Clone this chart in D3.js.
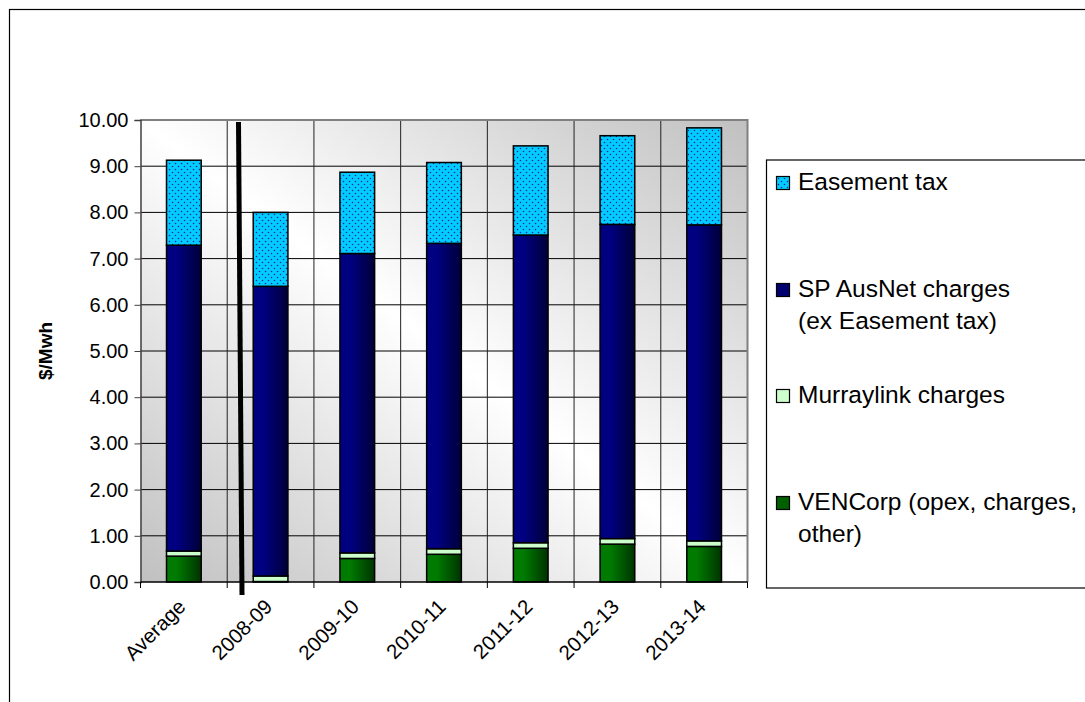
<!DOCTYPE html>
<html><head><meta charset="utf-8">
<script src="https://cdn.jsdelivr.net/npm/d3@7"></script>
<style>
html,body{margin:0;padding:0;background:#fff;}
svg{display:block;font-family:Arial,"Liberation Sans",sans-serif;}
</style></head>
<body><svg id="c" width="1085" height="702"></svg>
<script>
const categories = ["Average","2008-09","2009-10","2010-11","2011-12","2012-13","2013-14"];
const venCorp    = [0.56, 0.01, 0.51, 0.60, 0.73, 0.82, 0.77];
const murraylink = [0.11, 0.12, 0.12, 0.12, 0.12, 0.12, 0.12];
const spAusNet   = [6.62, 6.27, 6.48, 6.61, 6.66, 6.80, 6.84];
const easement   = [1.84, 1.60, 1.76, 1.75, 1.93, 1.92, 2.10];
const yTicks     = [0,1,2,3,4,5,6,7,8,9,10];
const seriesNames = ["VENCorp (opex, charges, other)","Murraylink charges","SP AusNet charges (ex Easement tax)","Easement tax"];

const svg = d3.select("#c");
const defs = svg.append("defs");

const bg = defs.append("linearGradient").attr("id","bg").attr("x1","0").attr("y1","1").attr("x2","1").attr("y2","0");
bg.append("stop").attr("offset","0").attr("stop-color","#c0c0c0");
bg.append("stop").attr("offset","0.5").attr("stop-color","#ffffff");
bg.append("stop").attr("offset","1").attr("stop-color","#c0c0c0");

function hgrad(id, c1, c2){
  const g = defs.append("linearGradient").attr("id",id).attr("x1","0").attr("y1","0").attr("x2","1").attr("y2","0");
  g.append("stop").attr("offset","0").attr("stop-color",c1);
  g.append("stop").attr("offset","0.3").attr("stop-color",c1);
  g.append("stop").attr("offset","1").attr("stop-color",c2);
}
hgrad("gGreen","#007a00","#003300");
hgrad("gNavy","#000080","#000038");

const pat = defs.append("pattern").attr("id","dots").attr("patternUnits","userSpaceOnUse").attr("width",6).attr("height",6);
pat.append("rect").attr("width",6).attr("height",6).attr("fill","#00ccff");
pat.append("circle").attr("cx",1.5).attr("cy",1.5).attr("r",0.8).attr("fill","#1a2a9a");
pat.append("circle").attr("cx",4.5).attr("cy",4.5).attr("r",0.8).attr("fill","#1a2a9a");

const fills = ["url(#gGreen)","#ccffcc","url(#gNavy)","url(#dots)"];
const legendFills = ["#006000","#ccffcc","#000070","url(#dots)"];

svg.append("rect").attr("x",9.5).attr("y",9.5).attr("width",1100).attr("height",720)
  .attr("fill","none").attr("stroke","#000").attr("stroke-width",1.2);

const pLeft = 140.5, pRight = 747.5, pTop = 120, pBottom = 582;
const x = d3.scaleBand().domain(categories).range([pLeft,pRight]).paddingInner(0.6).paddingOuter(0.3);
const y = d3.scaleLinear().domain([0,10]).range([pBottom,pTop]);
const step = x.step();

svg.append("rect").attr("x",pLeft).attr("y",pTop).attr("width",pRight-pLeft).attr("height",pBottom-pTop).attr("fill","url(#bg)");

svg.append("g").selectAll("line").data(yTicks.slice(1)).join("line")
  .attr("x1",pLeft).attr("x2",pRight).attr("y1",d=>y(d)).attr("y2",d=>y(d))
  .attr("stroke","#000").attr("stroke-width",1);
const bounds = categories.map(c => x(c) - step*x.paddingOuter());
svg.append("g").selectAll("line").data(bounds.slice(1)).join("line")
  .attr("x1",d=>d).attr("x2",d=>d).attr("y1",pTop).attr("y2",pBottom)
  .attr("stroke","#222").attr("stroke-width",1);

svg.append("path").attr("d",`M${pLeft},${pTop}H${pRight}V${pBottom}`).attr("fill","none").attr("stroke","#808080").attr("stroke-width",2);

const rows = categories.map((c,i)=>({cat:c, s0:venCorp[i], s1:murraylink[i], s2:spAusNet[i], s3:easement[i]}));
const stack = d3.stack().keys(["s0","s1","s2","s3"])(rows);

const gBars = svg.append("g");
stack.forEach((layer, li) => {
  gBars.append("g").selectAll("rect").data(layer).join("rect")
    .attr("x", d => x(d.data.cat))
    .attr("width", x.bandwidth())
    .attr("y", d => y(d[1]))
    .attr("height", d => Math.max(0, y(d[0]) - y(d[1])))
    .attr("fill", fills[li])
    .attr("stroke","#000").attr("stroke-width",1.5);
});

const yAxis = svg.append("g").attr("transform",`translate(${pLeft},0)`)
  .call(d3.axisLeft(y).tickValues(yTicks).tickFormat(d3.format(".2f")).tickSize(6).tickPadding(6));
yAxis.select(".domain").attr("stroke","#404040").attr("stroke-width",1.5);
yAxis.selectAll(".tick line").attr("stroke","#404040");
yAxis.selectAll("text").attr("font-size",20).attr("fill","#000").attr("font-family","Arial, 'Liberation Sans', sans-serif");

svg.append("line").attr("x1",pLeft).attr("x2",pRight).attr("y1",pBottom).attr("y2",pBottom).attr("stroke","#000").attr("stroke-width",1.5);
svg.append("g").selectAll("line").data(bounds.concat([pRight])).join("line")
  .attr("x1",d=>d).attr("x2",d=>d).attr("y1",pBottom).attr("y2",pBottom+6).attr("stroke","#000");

svg.append("g").selectAll("text").data(categories).join("text")
  .attr("transform", d => `translate(${x(d)+x.bandwidth()/2+3},${pBottom+26}) rotate(-45)`)
  .attr("text-anchor","end").attr("font-size",20.5).attr("fill","#000").text(d=>d);

svg.append("text").attr("transform",`translate(52,${(pTop+pBottom)/2}) rotate(-90)`)
  .attr("text-anchor","middle").attr("font-size",19).attr("font-weight","bold").text("$/Mwh");

svg.append("line").attr("x1",238.5).attr("y1",122).attr("x2",242).attr("y2",595).attr("stroke","#000").attr("stroke-width",5);

svg.append("rect").attr("x",766.5).attr("y",160).attr("width",400).attr("height",428)
  .attr("fill","#fff").attr("stroke","#000").attr("stroke-width",1.2);
const legendItems = [
  {i:3, lines:["Easement tax"], base:190},
  {i:2, lines:["SP AusNet charges","(ex Easement tax)"], base:297},
  {i:1, lines:["Murraylink charges"], base:403},
  {i:0, lines:["VENCorp (opex, charges,","other)"], base:510}
];
const lg = svg.append("g");
legendItems.forEach(it => {
  lg.append("rect").attr("x",776.5).attr("y",it.base-13.5).attr("width",13).attr("height",13)
    .attr("fill",legendFills[it.i]).attr("stroke","#000").attr("stroke-width",1.2);
  const t = lg.append("text").attr("x",798).attr("y",it.base).attr("font-size",24.5).attr("fill","#000");
  it.lines.forEach((l,k)=> t.append("tspan").attr("x",798).attr("dy", k===0?0:31.6).text(l));
});
</script></body></html>
